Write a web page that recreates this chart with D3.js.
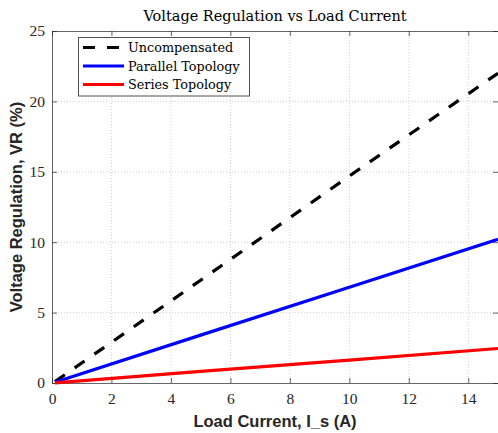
<!DOCTYPE html>
<meta charset="utf-8">
<style>
body { margin: 0; background: #fff; }
svg { display: block; }
.title { font-family: "DejaVu Serif", serif; font-size: 14.5px; fill: #000; }
.axlabel { font-family: "Liberation Sans", Arial, sans-serif; font-weight: bold; font-size: 16.5px; fill: #262626; }
.legend text { font-family: "DejaVu Serif", serif; font-size: 12.8px; fill: #000; }
.tk { font-family: "Liberation Serif", serif; font-size: 15.5px; fill: #262626; }
</style>
<svg width="498" height="433"></svg>
<script src="https://cdn.jsdelivr.net/npm/d3@7"></script>
<script>

// load current (A)
var current = [0.1, 5, 10, 15];

// voltage regulation (%)
var uncompensated = [0.1, 7.3, 14.7, 22.0];
var parallel = [0.05, 3.4, 6.8, 10.2];
var series = [0.01, 0.82, 1.63, 2.45];

var names = ["Uncompensated", "Parallel Topology", "Series Topology"];
var colors = ["#000000", "#0000ff", "#ff0000"];
var dashes = ["12,12", null, null];

var xTicks = [0, 2, 4, 6, 8, 10, 12, 14];
var yTicks = [0, 5, 10, 15, 20, 25];

var svg = d3.select("svg");
var m = {left: 52, top: 31, right: 498, bottom: 383};

var x = d3.scaleLinear().domain([0, 15]).range([m.left, m.right]);
var y = d3.scaleLinear().domain([0, 25]).range([m.bottom, m.top]);

// grid
svg.append("g").selectAll("line").data(xTicks.slice(1)).enter().append("line")
  .attr("x1", d => x(d)).attr("x2", d => x(d))
  .attr("y1", m.top).attr("y2", m.bottom)
  .attr("stroke", "#d0d0d0").attr("stroke-dasharray", "1,2");
svg.append("g").selectAll("line").data(yTicks.slice(1, -1)).enter().append("line")
  .attr("x1", m.left).attr("x2", m.right)
  .attr("y1", d => y(d)).attr("y2", d => y(d))
  .attr("stroke", "#d0d0d0").attr("stroke-dasharray", "1,2");

// axes
svg.append("g").attr("transform", "translate(0," + m.bottom + ")")
  .call(d3.axisBottom(x).tickValues(xTicks).tickSizeInner(-5).tickSizeOuter(0).tickPadding(10));
svg.append("g").attr("transform", "translate(" + m.left + ",0)")
  .call(d3.axisLeft(y).tickValues(yTicks).tickSizeInner(-5).tickSizeOuter(0).tickPadding(7));
svg.append("g").attr("transform", "translate(0," + m.top + ")")
  .call(d3.axisTop(x).tickValues(xTicks).tickSizeInner(-5).tickSizeOuter(0).tickFormat(""));
svg.append("g").attr("transform", "translate(" + m.right + ",0)")
  .call(d3.axisRight(y).tickValues(yTicks).tickSizeInner(-5).tickSizeOuter(0).tickFormat(""));
svg.selectAll(".domain").attr("stroke", "#262626").attr("stroke-opacity", 0.7);
svg.selectAll(".tick line").attr("stroke", "#262626").attr("stroke-opacity", 0.7);
svg.selectAll("g").attr("font-size", null).attr("font-family", null);
svg.selectAll(".tick text").attr("class", "tk").attr("fill", null);

// lines
var line = d3.line().x((d, i) => x(current[i])).y(d => y(d));
[uncompensated, parallel, series].forEach(function(s, k) {
  svg.append("path").datum(s)
    .attr("d", line)
    .attr("fill", "none")
    .attr("stroke", colors[k])
    .attr("stroke-width", 3.2)
    .attr("stroke-dasharray", dashes[k]);
});

// title and labels
svg.append("text").attr("class", "title")
  .attr("x", 275).attr("y", 21).attr("text-anchor", "middle")
  .text("Voltage Regulation vs Load Current");
svg.append("text").attr("class", "axlabel")
  .attr("x", 275).attr("y", 427).attr("text-anchor", "middle")
  .text("Load Current, I_s (A)");
svg.append("text").attr("class", "axlabel")
  .attr("transform", "translate(22,207) rotate(-90)").attr("text-anchor", "middle")
  .text("Voltage Regulation, VR (%)");

// legend
var lg = svg.append("g").attr("class", "legend");
lg.append("rect").attr("x", 78.5).attr("y", 37.5).attr("width", 171).attr("height", 58.5)
  .attr("fill", "#fff").attr("stroke", "#262626").attr("stroke-opacity", 0.8);
names.forEach(function(n, k) {
  var yy = 47.5 + k * 18.5;
  lg.append("line").attr("x1", 83).attr("x2", 124).attr("y1", yy).attr("y2", yy)
    .attr("stroke", colors[k]).attr("stroke-width", 3.2).attr("stroke-dasharray", dashes[k]);
  lg.append("text").attr("x", 128).attr("y", yy + 4.5).text(n);
});

</script>
